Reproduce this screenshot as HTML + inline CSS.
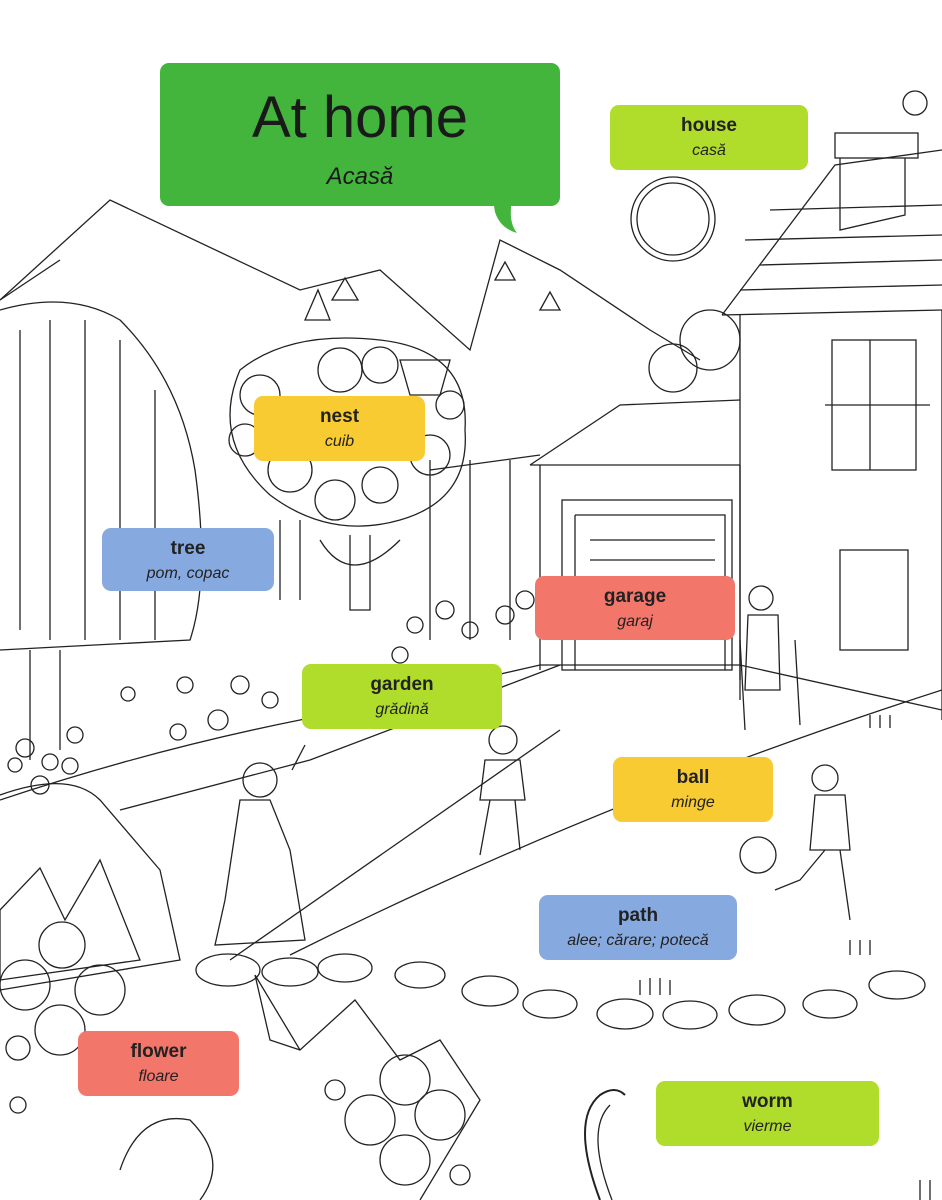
<!DOCTYPE html>
<html><head><meta charset="utf-8"><style>
html,body{margin:0;padding:0;background:#fff;}
body{width:942px;height:1200px;overflow:hidden;position:relative;font-family:"Liberation Sans",sans-serif;}
svg{position:absolute;left:0;top:0;}
.l{position:absolute;border-radius:9px;text-align:center;color:#222;}
.l b{display:block;font-size:19px;font-weight:bold;margin-top:10px;line-height:22px;}
.l i{display:block;font-size:16px;line-height:22px;margin-top:3px;}
.lime{background:#b0dc2c}.yel{background:#f8cb32}.blue{background:#86aadf}.red{background:#f2766a}
</style></head><body>
<svg width="942" height="1200" fill="none" stroke="#222" stroke-width="1.3">
<!-- mountains -->
<path d="M0 300 L110 200 L300 290 L380 270 L470 350 L500 240 L560 270 L650 330 L700 360"/>
<path d="M0 300 L60 260"/>
<path d="M305 320 L318 290 L330 320Z M332 300 L345 278 L358 300Z M495 280 L505 262 L515 280Z M540 310 L550 292 L560 310Z"/>
<!-- sun -->
<circle cx="673" cy="219" r="42"/><circle cx="673" cy="219" r="36"/>
<circle cx="915" cy="103" r="12"/>
<!-- house -->
<path d="M722 315 L835 165 L942 150"/><path d="M722 315 L942 310"/>
<path d="M745 240 L942 235 M760 265 L942 260 M740 290 L942 285 M770 210 L942 205"/>
<rect x="835" y="133" width="83" height="25"/><path d="M840 158 V230 L905 215 V158"/>
<path d="M740 315 V700 M942 310 V720"/>
<rect x="832" y="340" width="84" height="130"/><path d="M870 340 V470 M825 405 H930"/>
<rect x="840" y="550" width="68" height="100"/>
<!-- garage -->
<path d="M530 465 L620 405 L740 400 M530 465 H740"/>
<path d="M540 465 V670 M740 465 V680"/>
<rect x="562" y="500" width="170" height="170"/>
<path d="M575 515 H725 V670 M575 515 V670"/>
<path d="M590 540 H715 M590 560 H715"/>
<!-- fence -->
<path d="M430 460 V640 M470 460 V640 M510 460 V640 M280 520 V600 M300 520 V600"/>
<path d="M430 470 L540 455"/>
<!-- round tree -->
<path d="M270 495 Q210 440 240 370 Q290 330 380 340 Q470 350 465 430 Q470 500 400 520 Q330 540 270 495Z"/>
<circle cx="260" cy="395" r="20"/><circle cx="290" cy="470" r="22"/><circle cx="335" cy="500" r="20"/><circle cx="380" cy="485" r="18"/><circle cx="430" cy="455" r="20"/><circle cx="340" cy="370" r="22"/><circle cx="380" cy="365" r="18"/>
<circle cx="245" cy="440" r="16"/><circle cx="450" cy="405" r="14"/>
<path d="M350 535 V610 L370 610 V535"/><path d="M320 540 Q350 590 400 540"/>
<path d="M400 360 L450 360 L440 395 L410 395Z"/>
<!-- tall tree -->
<path d="M0 310 Q70 290 120 320 Q180 380 195 470 Q210 580 190 640 L0 650"/>
<path d="M30 650 V760 M60 650 V750"/>
<path d="M20 330 V630 M50 320 V640 M85 320 V640 M120 340 V640 M155 390 V640"/>
<circle cx="673" cy="368" r="24"/><circle cx="710" cy="340" r="30"/>
<!-- garden flowers -->
<g>
<circle cx="185" cy="685" r="8"/><circle cx="240" cy="685" r="9"/><circle cx="270" cy="700" r="8"/><circle cx="128" cy="694" r="7"/><circle cx="218" cy="720" r="10"/><circle cx="178" cy="732" r="8"/><circle cx="75" cy="735" r="8"/><circle cx="25" cy="748" r="9"/><circle cx="50" cy="762" r="8"/><circle cx="70" cy="766" r="8"/><circle cx="15" cy="765" r="7"/><circle cx="40" cy="785" r="9"/><circle cx="445" cy="610" r="9"/><circle cx="415" cy="625" r="8"/><circle cx="505" cy="615" r="9"/><circle cx="470" cy="630" r="8"/><circle cx="525" cy="600" r="9"/><circle cx="400" cy="655" r="8"/>
</g>
<path d="M0 800 Q150 750 300 720 L540 665 H740 L942 710"/>
<path d="M120 810 L310 760 L560 665"/>
<path d="M230 960 L560 730 M290 955 Q600 800 942 690"/>
<!-- car -->
<path d="M0 795 Q70 770 100 800 L160 870 L180 960 L0 990"/>
<!-- kids -->
<circle cx="260" cy="780" r="17"/><path d="M240 800 L225 900 L215 945 L305 940 L290 850 L270 800Z"/><path d="M292 770 L305 745"/>
<ellipse cx="228" cy="970" rx="32" ry="16"/><ellipse cx="290" cy="972" rx="28" ry="14"/>
<circle cx="503" cy="740" r="14"/><path d="M485 760 L480 800 L525 800 L520 760Z M490 800 L480 855 M515 800 L520 850"/>
<circle cx="761" cy="598" r="12"/><path d="M748 615 L745 690 L780 690 L778 615Z M740 640 L745 730 M795 640 L800 725"/>
<circle cx="825" cy="778" r="13"/><path d="M815 795 L810 850 L850 850 L845 795Z M825 850 L800 880 L775 890 M840 850 L850 920"/>
<circle cx="758" cy="855" r="18"/>
<!-- stones -->
<ellipse cx="345" cy="968" rx="27" ry="14"/><ellipse cx="490" cy="991" rx="28" ry="15"/><ellipse cx="550" cy="1004" rx="27" ry="14"/><ellipse cx="625" cy="1014" rx="28" ry="15"/><ellipse cx="690" cy="1015" rx="27" ry="14"/><ellipse cx="757" cy="1010" rx="28" ry="15"/><ellipse cx="830" cy="1004" rx="27" ry="14"/><ellipse cx="897" cy="985" rx="28" ry="14"/><ellipse cx="420" cy="975" rx="25" ry="13"/>
<!-- big flowers / shapes -->
<path d="M0 910 L40 868 L65 920 L100 860 L140 960 L0 980Z"/>
<circle cx="62" cy="945" r="23"/><circle cx="25" cy="985" r="25"/><circle cx="100" cy="990" r="25"/><circle cx="60" cy="1030" r="25"/><circle cx="18" cy="1048" r="12"/><circle cx="18" cy="1105" r="8"/>
<path d="M255 975 L300 1050 L355 1000 L400 1060 L440 1040 L480 1100 L420 1200 M255 975 L270 1040 L300 1050"/>
<circle cx="405" cy="1080" r="25"/><circle cx="440" cy="1115" r="25"/><circle cx="370" cy="1120" r="25"/><circle cx="405" cy="1160" r="25"/><circle cx="335" cy="1090" r="10"/><circle cx="460" cy="1175" r="10"/>
<path d="M120 1170 Q140 1110 190 1120 Q230 1160 200 1200"/>
<path d="M600 1200 Q570 1120 600 1095 Q615 1085 625 1095" stroke-width="2"/><path d="M612 1200 Q585 1130 610 1105"/>
<path d="M640 980 V995 M650 978 V995 M660 978 V995 M670 980 V995 M850 940 V955 M860 940 V955 M870 940 V955 M920 1180 V1200 M930 1180 V1200 M870 715 V728 M880 715 V728 M890 715 V728"/>
<!-- speech bubble -->
<rect x="160" y="63" width="400" height="143" rx="9" fill="#43b43c" stroke="none"/>
<path d="M493 200 L512 200 Q508 222 517 233 Q500 228 495 212Z" fill="#43b43c" stroke="none"/>
<text x="360" y="137" text-anchor="middle" font-family="Liberation Sans, sans-serif" font-size="58" fill="#1a1a1a" stroke="none">At home</text>
<text x="360" y="184" text-anchor="middle" font-family="Liberation Sans, sans-serif" font-style="italic" font-size="24" fill="#1a1a1a" stroke="none">Acasă</text>
</svg>
<div class="l lime" style="left:610px;top:105px;width:198px;height:65px"><b>house</b><i>casă</i></div>
<div class="l yel" style="left:254px;top:396px;width:171px;height:65px"><b>nest</b><i>cuib</i></div>
<div class="l blue" style="left:102px;top:528px;width:172px;height:63px"><b>tree</b><i>pom, copac</i></div>
<div class="l red" style="left:535px;top:576px;width:200px;height:64px"><b>garage</b><i>garaj</i></div>
<div class="l lime" style="left:302px;top:664px;width:200px;height:65px"><b>garden</b><i>grădină</i></div>
<div class="l yel" style="left:613px;top:757px;width:160px;height:65px"><b>ball</b><i>minge</i></div>
<div class="l blue" style="left:539px;top:895px;width:198px;height:65px"><b>path</b><i>alee; cărare; potecă</i></div>
<div class="l red" style="left:78px;top:1031px;width:161px;height:65px"><b>flower</b><i>floare</i></div>
<div class="l lime" style="left:656px;top:1081px;width:223px;height:65px"><b>worm</b><i>vierme</i></div>
</body></html>
